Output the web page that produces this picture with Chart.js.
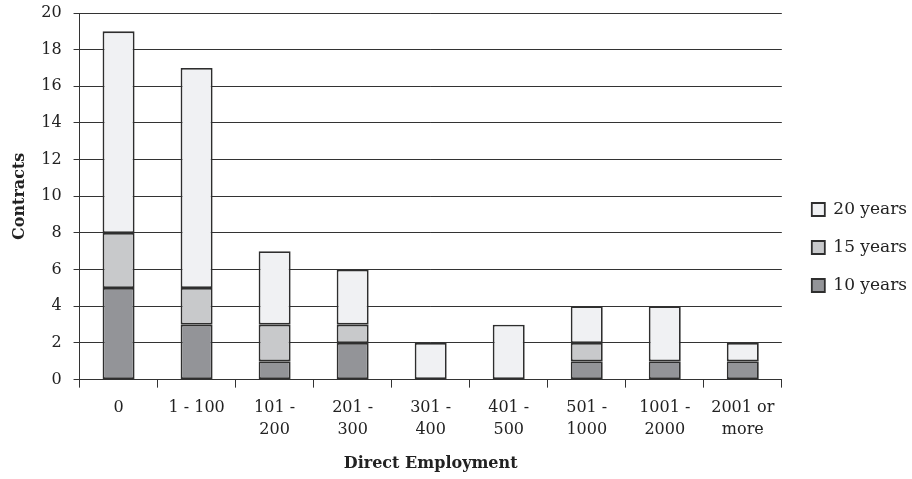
<!DOCTYPE html>
<html>
<head>
<meta charset="utf-8">
<script src="https://cdn.jsdelivr.net/npm/chart.js@4"></script>
<style>
    html, body { margin: 0; padding: 0; background: #fff; }
    #wrap { width: 912px; height: 479px; }
</style>
</head>
<body>
<div id="wrap"><canvas id="contracts"></canvas></div>
<script>
// categories of direct employment
let categories = [
    '0', '1 - 100', ['101 -', '200'], ['201 -', '300'], ['301 -', '400'],
    ['401 -', '500'], ['501 -', '1000'], ['1001 -', '2000'], ['2001 or', 'more']
];

// contracts per duration
let tenYears = [5, 3, 1, 2, 0, 0, 1, 1, 1];
let fifteenYears = [3, 2, 2, 1, 0, 0, 1, 0, 0];
let twentyYears = [11, 12, 4, 3, 2, 3, 2, 3, 1];

let fontName = "'DejaVu Serif', serif";

function buildDataset(label, values, color) {
    return {
        label: label,
        data: values,
        backgroundColor: color,
        borderColor: '#2e2e2e',
        borderWidth: 1.8,
        borderSkipped: false,
        barPercentage: 0.41,
        categoryPercentage: 1.0
    };
}

// nudge the legend a little away from the plot, as in the original
let legendNudge = {
    id: 'legendNudge',
    afterLayout(chart) {
        let legend = chart.legend;
        legend.left += 9;
        legend.right += 9;
        legend.top += 11;
        legend.bottom += 11;
    }
};

window.onload = function () {
    let context = document.getElementById('contracts').getContext('2d');
    window.chart = new Chart(context, {
        type: 'bar',
        data: {
            labels: categories,
            datasets: [
                buildDataset('10 years', tenYears, '#939498'),
                buildDataset('15 years', fifteenYears, '#c8c9cb'),
                buildDataset('20 years', twentyYears, '#f0f1f3')
            ]
        },
        plugins: [legendNudge],
        options: {
            responsive: true,
            maintainAspectRatio: false,
            animation: false,
            layout: { padding: { top: 0, right: 4, left: 6, bottom: 6 } },
            plugins: {
                legend: {
                    position: 'right',
                    reverse: true,
                    labels: {
                        font: { family: fontName, size: 17 },
                        color: '#222',
                        boxWidth: 13,
                        boxHeight: 13,
                        padding: 21
                    }
                },
                tooltip: { enabled: false }
            },
            scales: {
                x: {
                    stacked: true,
                    grid: {
                        drawOnChartArea: false,
                        tickLength: 8,
                        color: '#333'
                    },
                    border: { color: '#333' },
                    ticks: {
                        font: { family: fontName, size: 16, lineHeight: 1.38 },
                        color: '#222',
                        maxRotation: 0,
                        padding: 9
                    },
                    title: {
                        display: true,
                        text: 'Direct Employment',
                        font: { family: fontName, size: 16, weight: 'bold' },
                        color: '#222',
                        padding: { top: 4, bottom: 0 }
                    }
                },
                y: {
                    stacked: true,
                    min: 0,
                    max: 20,
                    // the top tick label only needs half its height above the plot
                    afterFit: function (scale) {
                        scale.paddingTop = 13;
                    },
                    grid: {
                        color: '#333',
                        tickLength: 6
                    },
                    border: { color: '#333' },
                    ticks: {
                        stepSize: 2,
                        font: { family: fontName, size: 16 },
                        color: '#222',
                        padding: 12
                    },
                    title: {
                        display: true,
                        text: 'Contracts',
                        font: { family: fontName, size: 16, weight: 'bold' },
                        color: '#222',
                        padding: { top: 4, bottom: 0 }
                    }
                }
            }
        }
    });
};
</script>
</body>
</html>
